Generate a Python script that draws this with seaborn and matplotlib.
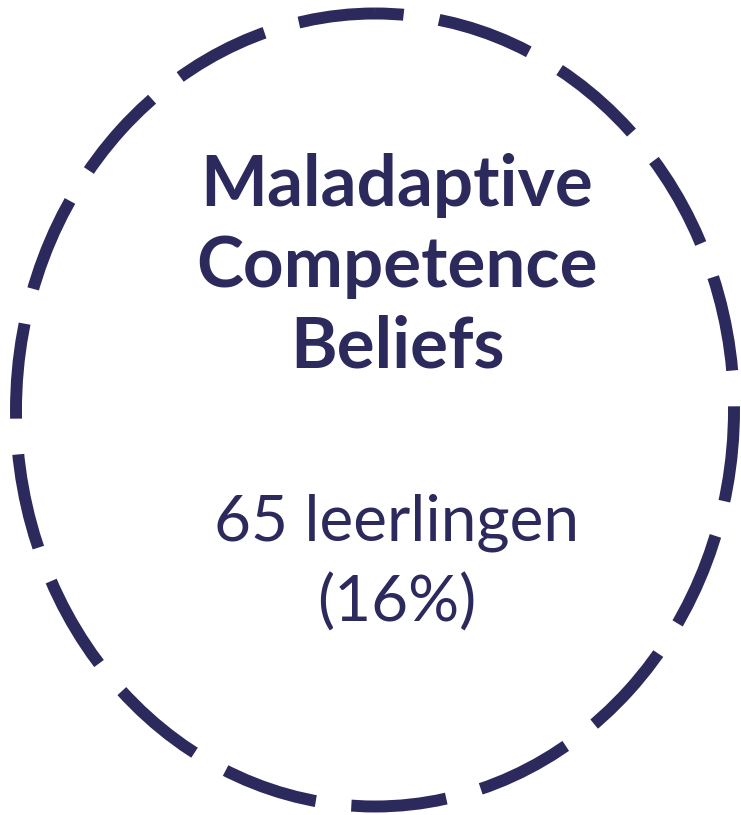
import matplotlib
matplotlib.use("Agg")
import matplotlib.pyplot as plt
from matplotlib.patches import Ellipse
import seaborn as sns

# profile data
title_lines = ["Maladaptive", "Competence", "Beliefs"]
n_students = 65
share_pct = 16
count_label = "leerlingen"

navy = "#2C295C"

sns.set_theme(style="white")
plt.rcParams["font.family"] = ["Lato", "DejaVu Sans"]

fig = plt.figure(figsize=(7.41, 8.15), dpi=100)
ax = fig.add_axes([0, 0, 1, 1])
ax.set_xlim(0, 741)
ax.set_ylim(815, 0)
ax.axis("off")

# dashed outline (offset so the dash pattern lines up like the original)
ring = Ellipse((375, 410), 718, 793, fill=False, edgecolor=navy,
               linewidth=8.6, linestyle=(5.6, (8, 3)), capstyle="butt")
ax.add_patch(ring)

# title block
for i, line in enumerate(title_lines):
    ax.text(397, 206 + i * 81, line, ha="center", va="baseline",
            fontsize=51, fontweight="bold", color=navy)

# count + share
ax.text(397, 540, f"{n_students} {count_label}", ha="center", va="baseline",
        fontsize=46, color=navy)
ax.text(397, 622, f"({share_pct}%)", ha="center", va="baseline",
        fontsize=46, color=navy)

fig.savefig("out.png", dpi=100)
